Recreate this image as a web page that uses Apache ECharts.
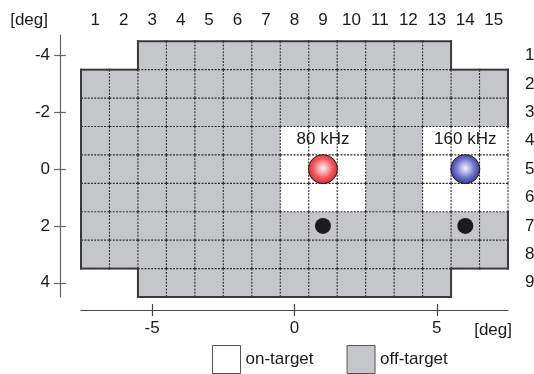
<!DOCTYPE html>
<html>
<head>
<meta charset="utf-8">
<script src="https://cdn.jsdelivr.net/npm/echarts@6/dist/echarts.min.js"></script>
<style>
  html, body { margin: 0; padding: 0; background: #fff; }
  #chart { width: 534px; height: 374px; }
</style>
</head>
<body>
<div id="chart"></div>
<script>
// Electrode/speaker grid layout: 15 columns x 9 rows, one cell per degree.
const colLabels = ['1','2','3','4','5','6','7','8','9','10','11','12','13','14','15'];
const rowLabels = ['1','2','3','4','5','6','7','8','9'];
// First and last column present in each row (rows 1..9)
const rowFirstCol = [3, 1, 1, 1, 1, 1, 1, 1, 3];
const rowLastCol  = [13, 15, 15, 15, 15, 15, 15, 15, 13];
// On-target block: these columns within these rows
const onTargetCols = [8, 9, 10, 13, 14, 15];
const onTargetRows = [4, 5, 6];
// Stimulus positions (deg) and their frequencies
const toneNames = ['80 kHz', '160 kHz'];
const toneX = [1, 6];
const toneY = [0, 0];
const toneColors = [
  ['#fff6f6', '#f4575c', '#d6242b'],
  ['#f6f6ff', '#6a6fc8', '#2e3290']
];
// Fixation dots (deg)
const dotX = [1, 6];
const dotY = [2, 2];
// Axis ticks (deg)
const xTicks = [-5, 0, 5];
const yTicks = [-4, -2, 0, 2, 4];

const COL_ZERO = 8;   // column sitting at 0 deg
const ROW_ZERO = 5;   // row sitting at 0 deg

const FONT = 'Liberation Sans, Arial, Helvetica, sans-serif';
const TXT = '#1a1a1a';
const GRAY = '#c5c6ca';
const DASH = '#2a2a2a';
const EDGE = '#3a3a3a';

// Build the cell list
const cellSet = new Set();
const offCells = [];
const onCells = [];
rowLabels.forEach((_, ri) => {
  const row = ri + 1;
  for (let col = rowFirstCol[ri]; col <= rowLastCol[ri]; col++) {
    cellSet.add(col + ',' + row);
    const on = onTargetRows.includes(row) && onTargetCols.includes(col);
    const item = [col - COL_ZERO, row - ROW_ZERO, col, row];
    (on ? onCells : offCells).push(item);
  }
});
const has = (c, r) => cellSet.has(c + ',' + r);

function cellRenderer(fill, solidBorder) {
  return function (params, api) {
    const x = api.value(0), y = api.value(1);
    const col = api.value(2), row = api.value(3);
    const a = api.coord([x - 0.5, y - 0.5]);
    const b = api.coord([x + 0.5, y + 0.5]);
    const x0 = Math.min(a[0], b[0]), x1 = Math.max(a[0], b[0]);
    const y0 = Math.min(a[1], b[1]), y1 = Math.max(a[1], b[1]);
    const children = [{
      type: 'rect', z2: 0,
      shape: { x: x0, y: y0, width: x1 - x0, height: y1 - y0 },
      style: { fill: fill }
    }];
    const edges = [
      { seg: [x0, y0, x1, y0], outer: !has(col, row - 1), own: true },
      { seg: [x0, y0, x0, y1], outer: !has(col - 1, row), own: true },
      { seg: [x1, y0, x1, y1], outer: !has(col + 1, row), own: !has(col + 1, row) },
      { seg: [x0, y1, x1, y1], outer: !has(col, row + 1), own: !has(col, row + 1) }
    ];
    edges.forEach(e => {
      const shape = { x1: e.seg[0], y1: e.seg[1], x2: e.seg[2], y2: e.seg[3] };
      if (e.outer && solidBorder) {
        children.push({
          type: 'line', z2: 2, shape,
          style: { stroke: EDGE, lineWidth: 2, lineCap: 'square' }
        });
      } else if (e.own) {
        children.push({
          type: 'line', z2: 1, shape,
          style: { stroke: DASH, lineWidth: 1.1, lineDash: [2, 1.3] }
        });
      }
    });
    return { type: 'group', children };
  };
}

const chart = echarts.init(document.getElementById('chart'), null, { renderer: 'canvas' });

const xMin = -7.5, xMax = 7.5;
const yMin = -4.72, yMax = 4.5;

const option = {
  animation: false,
  backgroundColor: '#fff',
  textStyle: { fontFamily: FONT },
  grid: { left: 81, right: 26, top: 35, bottom: 77, outerBoundsMode: 'none', containLabel: false },
  legend: {
    left: 212, top: 345, padding: 0,
    itemWidth: 28, itemHeight: 28, itemGap: 33,
    textStyle: { fontSize: 17, color: TXT, fontFamily: FONT, padding: [4, 0, 0, 0] },
    selectedMode: false,
    data: [
      { name: 'on-target', icon: 'rect', itemStyle: { color: '#ffffff', borderColor: '#555', borderWidth: 1 } },
      { name: 'off-target', icon: 'rect', itemStyle: { color: GRAY, borderColor: '#555', borderWidth: 1 } }
    ]
  },
  xAxis: [
    {
      type: 'value', position: 'bottom', offset: 13, min: xMin, max: xMax,
      name: '[deg]', nameLocation: 'end', nameGap: 4,
      nameTextStyle: { fontSize: 17, color: TXT, align: 'right', verticalAlign: 'top', padding: [12, 0, 0, 0], fontFamily: FONT },
      splitLine: { show: false },
      axisLine: { show: true, onZero: false, lineStyle: { color: '#444', width: 1.2 } },
      axisTick: { show: true, length: 6, customValues: xTicks, lineStyle: { color: '#444', width: 1.2 } },
      axisLabel: { customValues: xTicks, margin: 10, fontSize: 17, color: TXT, fontFamily: FONT }
    },
    {
      type: 'value', position: 'bottom', offset: 13, min: xMin, max: xMax,
      splitLine: { show: false },
      axisLine: { show: false, onZero: false },
      axisTick: { show: true, inside: true, length: 6, customValues: xTicks, lineStyle: { color: '#444', width: 1.2 } },
      axisLabel: { show: false }
    },
    {
      type: 'value', position: 'top', min: 0.5, max: 15.5,
      splitLine: { show: false },
      axisLine: { show: false, onZero: false },
      axisTick: { show: false },
      axisLabel: {
        customValues: colLabels.map(Number), margin: 6,
        fontSize: 17, color: TXT, fontFamily: FONT,
        formatter: v => colLabels[v - 1]
      }
    }
  ],
  yAxis: [
    {
      type: 'value', position: 'left', offset: 21, inverse: true, min: yMin, max: yMax,
      name: '[deg]', nameLocation: 'start', nameGap: 15,
      nameTextStyle: { fontSize: 17, color: TXT, align: 'right', verticalAlign: 'middle', padding: [0, 12, 0, 0], fontFamily: FONT },
      splitLine: { show: false },
      axisLine: { show: true, onZero: false, lineStyle: { color: '#666', width: 1.2 } },
      axisTick: { show: true, length: 6, customValues: yTicks, lineStyle: { color: '#666', width: 1.2 } },
      axisLabel: { customValues: yTicks, margin: 10, fontSize: 17, color: TXT, fontFamily: FONT }
    },
    {
      type: 'value', position: 'left', offset: 21, inverse: true, min: yMin, max: yMax,
      splitLine: { show: false },
      axisLine: { show: false, onZero: false },
      axisTick: { show: true, inside: true, length: 6, customValues: yTicks, lineStyle: { color: '#666', width: 1.2 } },
      axisLabel: { show: false }
    },
    {
      type: 'value', position: 'right', inverse: true, min: yMin + ROW_ZERO, max: yMax + ROW_ZERO,
      splitLine: { show: false },
      axisLine: { show: false, onZero: false },
      axisTick: { show: false },
      axisLabel: {
        customValues: rowLabels.map(Number), margin: 17,
        fontSize: 17, color: TXT, fontFamily: FONT,
        formatter: v => rowLabels[v - 1]
      }
    }
  ],
  series: [
    {
      name: 'off-target', type: 'custom', xAxisIndex: 0, yAxisIndex: 0,
      itemStyle: { color: GRAY },
      renderItem: cellRenderer(GRAY, true),
      encode: { x: 0, y: 1 },
      data: offCells, z: 1
    },
    {
      name: 'on-target', type: 'custom', xAxisIndex: 0, yAxisIndex: 0,
      itemStyle: { color: '#fff' },
      renderItem: cellRenderer('#ffffff', false),
      encode: { x: 0, y: 1 },
      data: onCells, z: 1
    },
    {
      name: 'tones', type: 'scatter', xAxisIndex: 0, yAxisIndex: 0, z: 5,
      symbolSize: 29,
      data: toneX.map((x, i) => ({
        value: [x, toneY[i]],
        itemStyle: {
          color: {
            type: 'radial', x: 0.5, y: 0.47, r: 0.55,
            colorStops: [
              { offset: 0, color: toneColors[i][0] },
              { offset: 0.6, color: toneColors[i][1] },
              { offset: 1, color: toneColors[i][2] }
            ]
          },
          borderColor: '#2a1a1a', borderWidth: 1, opacity: 1
        }
      })),
      label: {
        show: true, position: 'top', distance: 6,
        fontSize: 17, color: TXT, fontFamily: FONT,
        formatter: p => toneNames[p.dataIndex]
      }
    },
    {
      name: 'fixation', type: 'scatter', xAxisIndex: 0, yAxisIndex: 0, z: 5,
      symbolSize: 16,
      itemStyle: { color: '#1c1c1c', opacity: 1 },
      data: dotX.map((x, i) => [x, dotY[i]])
    }
  ]
};

chart.setOption(option);
</script>
</body>
</html>
